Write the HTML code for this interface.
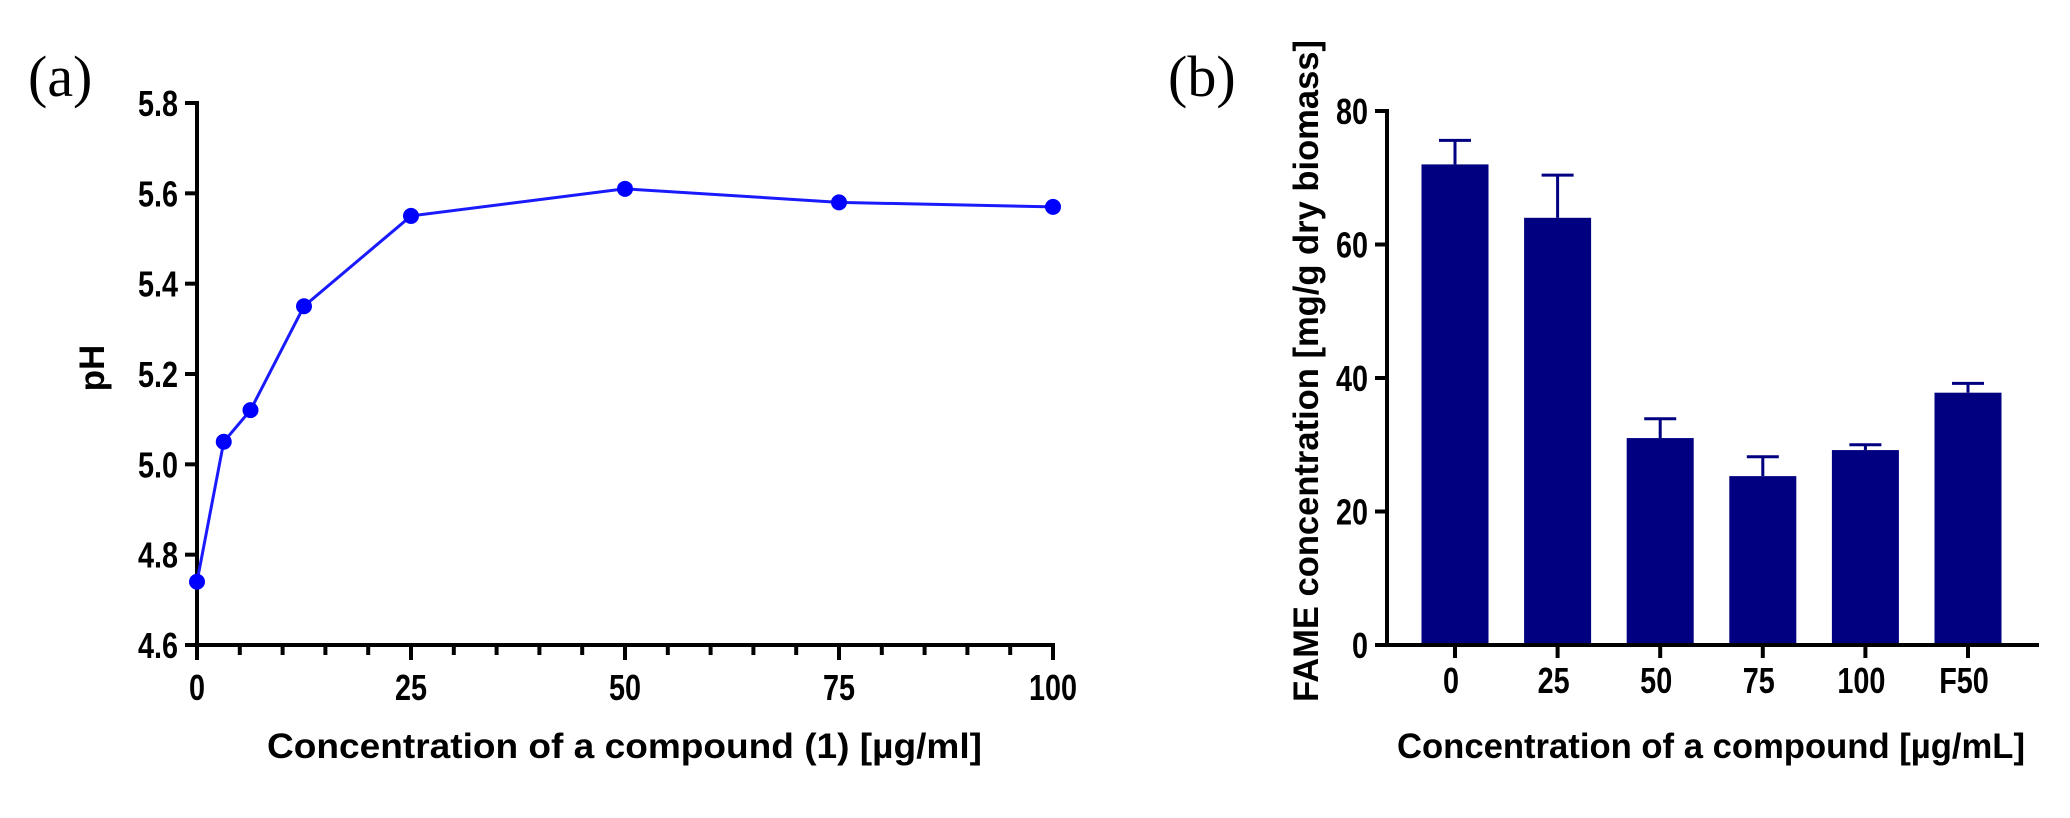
<!DOCTYPE html>
<html><head><meta charset="utf-8"><style>
html,body{margin:0;padding:0;background:#fff;}
svg{display:block;font-family:"Liberation Sans",sans-serif;}
</style></head><body>
<svg id="chart" width="2070" height="818" viewBox="0 0 2070 818" xmlns="http://www.w3.org/2000/svg">
<text x="28" y="96" font-family="Liberation Serif, serif" font-size="58">(a)</text>
<text x="1168" y="96" font-family="Liberation Serif, serif" font-size="58">(b)</text>
<g id="pa"></g>
<g id="pb"></g>
</svg>
<script>
const phX = [0, 3.125, 6.25, 12.5, 25, 50, 75, 100];
const phY = [4.74, 5.05, 5.12, 5.35, 5.55, 5.61, 5.58, 5.57];
const phYTicks = [4.6, 4.8, 5.0, 5.2, 5.4, 5.6, 5.8];
const phXTicks = [0, 25, 50, 75, 100];
const fameCats = ["0", "25", "50", "75", "100", "F50"];
const fameVals = [72, 64, 31, 25.3, 29.2, 37.8];
const fameErr = [3.6, 6.4, 2.9, 2.9, 0.8, 1.4];
const fameYTicks = [0, 20, 40, 60, 80];

const NS = "http://www.w3.org/2000/svg";
function mk(parent, tag, attrs, text){
  const e = document.createElementNS(NS, tag);
  for (const k in attrs) e.setAttribute(k, attrs[k]);
  if (text !== undefined) e.textContent = text;
  parent.appendChild(e); return e;
}
function ntext(parent, x, y, anchor, s){
  return mk(parent, 'text', {x:0, y:0, 'text-anchor':anchor, 'font-size':36, 'font-weight':'bold', transform:'translate('+x+','+y+') scale(0.8,1)'}, s);
}
// Panel A
const pa = document.getElementById('pa');
const ax = v => 197 + (v - 0) / 100 * (1053 - 197);
const ay = v => 645 - (v - 4.6) / 1.2 * (645 - 103);
let e;
e = mk(pa, 'line', {x1:197, y1:101, x2:197, y2:647, stroke:'#000', 'stroke-width':4});


e = mk(pa, 'line', {x1:195, y1:645, x2:1055, y2:645, stroke:'#000', 'stroke-width':4});


phYTicks.forEach(t => {
  mk(pa, 'line', {x1:185, y1:ay(t), x2:197, y2:ay(t), stroke:'#000', 'stroke-width':4});
  e = ntext(pa, 178, ay(t)+13, 'end', t.toFixed(1));
  
  
});
for (let v = 0; v <= 100; v += 5) {
  mk(pa, 'line', {x1:ax(v), y1:645, x2:ax(v), y2:(v % 25 === 0 ? 660 : 655), stroke:'#000', 'stroke-width':4});
}
phXTicks.forEach(t => {
  e = ntext(pa, ax(t), 700, 'middle', String(t));
  
  
});
e = mk(pa, 'text', {x:267, y:758, 'font-size':35, 'font-weight':'bold', textLength:715, lengthAdjust:'spacingAndGlyphs'}, 'Concentration of a compound (1) [\u00b5g/ml]');


e = mk(pa, 'text', {x:0, y:0, 'font-size':35, 'font-weight':'bold', 'text-anchor':'middle', transform:'translate(104,368) rotate(-90)'}, 'pH');


e = mk(pa, 'polyline', {points: phX.map((x,i)=>ax(x)+','+ay(phY[i])).join(' '), fill:'none', stroke:'#1a1aff', 'stroke-width':3});


phX.forEach((x,i) => {
  e = mk(pa, 'circle', {cx:ax(x), cy:ay(phY[i]), r:8, fill:'#0000ff'});
  
  
});
// Panel B
const pb = document.getElementById('pb');
const by = v => 645 - v / 80 * (645 - 111);
const bx = i => 1455 + i * 102.6;
fameCats.forEach((c,i) => {
  const top = fameVals[i] + fameErr[i];
  mk(pb, 'line', {x1:bx(i), y1:by(fameVals[i]), x2:bx(i), y2:by(top), stroke:'#000080', 'stroke-width':3});
  mk(pb, 'line', {x1:bx(i)-16, y1:by(top), x2:bx(i)+16, y2:by(top), stroke:'#000080', 'stroke-width':3});
  e = mk(pb, 'rect', {x:bx(i)-33.5, y:by(fameVals[i]), width:67, height:645-by(fameVals[i]), fill:'#000080'});
  
  
  mk(pb, 'line', {x1:bx(i), y1:645, x2:bx(i), y2:658, stroke:'#000', 'stroke-width':4});
  e = ntext(pb, bx(i)-4, 693, 'middle', c);
  
  
});
e = mk(pb, 'line', {x1:1387, y1:109, x2:1387, y2:647, stroke:'#000', 'stroke-width':4});


e = mk(pb, 'line', {x1:1385, y1:645, x2:2039, y2:645, stroke:'#000', 'stroke-width':4});


fameYTicks.forEach(t => {
  mk(pb, 'line', {x1:1375, y1:by(t), x2:1387, y2:by(t), stroke:'#000', 'stroke-width':4});
  e = ntext(pb, 1368, by(t)+13, 'end', String(t));
  
  
});
e = mk(pb, 'text', {x:1397, y:758, 'font-size':35, 'font-weight':'bold', textLength:628, lengthAdjust:'spacingAndGlyphs'}, 'Concentration of a compound [\u00b5g/mL]');


e = mk(pb, 'text', {x:0, y:0, 'font-size':35, 'font-weight':'bold', 'text-anchor':'middle', textLength:662, lengthAdjust:'spacingAndGlyphs', transform:'translate(1318,371) rotate(-90)'}, 'FAME concentration [mg/g dry biomass]');


</script>
</body></html>
